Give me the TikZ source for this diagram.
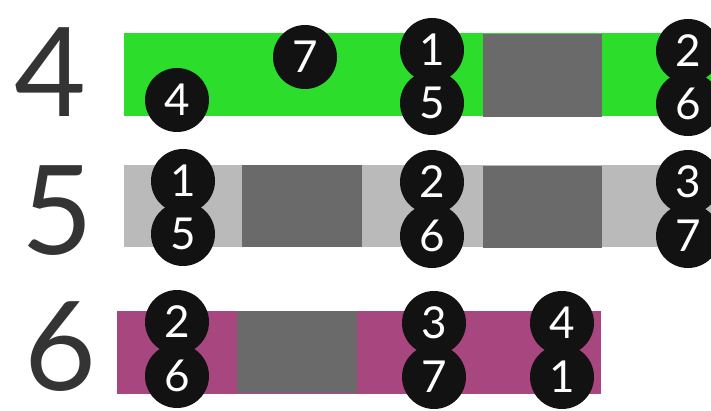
\documentclass[tikz,border=0pt]{standalone}
\usepackage{fontspec}
\setmainfont{Lato}
\usepackage{xcolor}
\definecolor{greenfill}{RGB}{44,221,44}
\definecolor{lightfill}{RGB}{186,186,186}
\definecolor{darkfill}{RGB}{106,106,106}
\definecolor{plumfill}{RGB}{168,70,127}
\definecolor{ballfill}{RGB}{18,18,18}
\definecolor{labelgray}{RGB}{52,52,52}
\tikzset{
  ball/.style={circle,fill=ballfill,text=white,minimum size=64pt,inner sep=0pt,font=\fontsize{44}{44}\selectfont},
  rowlabel/.style={text=labelgray,inner sep=0pt,font=\fontsize{124}{124}\selectfont}
}

\begin{document}
\begin{tikzpicture}[x=1pt,y=-1pt]
  \useasboundingbox (0,0) rectangle (711,411);

  % --- Row 4 (green bar) ---
  \fill[greenfill] (124,33) rectangle (711,116);
  \fill[darkfill]  (483,34) rectangle (602,117);
  \node[rowlabel] (L4) at (50,72) {4};
  \node[ball] (A7) at (305,57)  {7};
  \node[ball] (A4) at (177,100) {4};
  \node[ball] (A5) at (432,103) {5};
  \node[ball] (A1) at (432,50)  {1};
  \node[ball] (A6) at (688,104) {6};
  \node[ball] (A2) at (688,51)  {2};

  % --- Row 5 (grey bar) ---
  \fill[lightfill] (124,165) rectangle (711,247);
  \fill[darkfill]  (242,165) rectangle (362,247);
  \fill[darkfill]  (483,166) rectangle (602,248);
  \node[rowlabel] (L5) at (57,211) {5};
  \node[ball] (B5) at (183,234) {5};
  \node[ball] (B1) at (183,181) {1};
  \node[ball] (B6) at (432,236) {6};
  \node[ball] (B2) at (432,182) {2};
  \node[ball] (B7) at (688,236) {7};
  \node[ball] (B3) at (688,182) {3};

  % --- Row 6 (plum bar) ---
  \fill[plumfill] (117,311) rectangle (601,394);
  \fill[darkfill] (237,311) rectangle (357,393);
  \node[rowlabel] (L6) at (60,347) {6};
  \node[ball] (C6) at (177,376) {6};
  \node[ball] (C2) at (177,322) {2};
  \node[ball] (C7) at (434,377) {7};
  \node[ball] (C3) at (434,323) {3};
  \node[ball] (C1) at (562,377) {1};
  \node[ball] (C4) at (562,323) {4};
\end{tikzpicture}
\end{document}
